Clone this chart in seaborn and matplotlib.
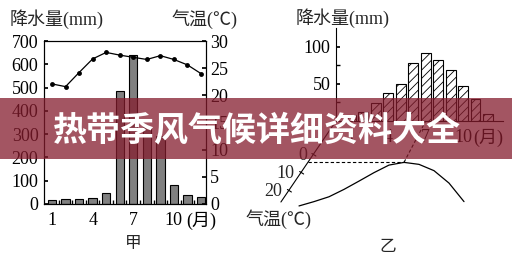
import numpy as np
import pandas as pd
import matplotlib
matplotlib.use('Agg')
import matplotlib.pyplot as plt
import seaborn as sns
from matplotlib.patches import Rectangle
from matplotlib.lines import Line2D
from matplotlib.transforms import IdentityTransform

# ---------------- data ----------------
months = list(range(1, 13))
precip_jia = [16, 20, 20, 27, 47, 486, 640, 330, 290, 81, 37, 32]
temp_jia = [22.1, 21.6, 24.2, 26.7, 27.9, 27.4, 27.0, 26.6, 27.3, 26.6, 25.6, 24.0]
precip_yi = [8, 12, 24, 37, 50, 78, 92, 82, 68, 47, 29, 9]
temp_yi = [28.3, 25.9, 23.2, 19.1, 14.5, 9.8, 5.6, 4.1, 5.2, 8.7, 15.6, 25.9]
month_ticks = [1, 4, 7, 10, 12]
month_labels = ['1', '4', '7', '10', '(月)']
jia_precip_ticks = [0, 100, 200, 300, 400, 500, 600, 700]
jia_temp_ticks = [0, 5, 10, 15, 20, 25, 30]
yi_precip_ticks = [50, 100]
yi_precip_minor = [25, 75]
yi_temp_ticks = [0, 10, 20]
banner_text = '热带季风气候详细资料大全'

sns.set_theme(style='white')
plt.rcParams['font.family'] = ['Liberation Serif', 'Noto Sans CJK SC']
plt.rcParams['hatch.linewidth'] = 0.6
plt.rcParams['axes.linewidth'] = 0.8

W, H = 512, 259
fig = plt.figure(figsize=(W / 100, H / 100), dpi=100)
fig.patch.set_facecolor('white')


def rect(l, t, r, b):
    return [l / W, 1 - b / H, (r - l) / W, (b - t) / H]


FS = 13

# ---------------- 甲 ----------------
df_jia = pd.DataFrame({'month': months, 'precip': precip_jia, 'temp': temp_jia})
ax1 = fig.add_axes(rect(44, 41, 206, 204))
sns.barplot(data=df_jia, x='month', y='precip', native_scale=True, width=0.62,
            color='#808080', saturation=1, edgecolor='black', linewidth=0.8, ax=ax1)
ax1.set_xlim(0.41, 12.37)
ax1.set_ylim(0, 700)
ax1.set_yticks(jia_precip_ticks)
ax1.set_xticks(month_ticks, month_labels)
ax1.set_xticks(np.arange(1.5, 12, 1), minor=True)
ax1.tick_params(axis='y', direction='in', length=3, pad=4, labelsize=FS, colors='black')
ax1.tick_params(axis='x', which='major', length=0, pad=5.5, labelsize=FS, colors='black')
ax1.tick_params(axis='x', which='minor', direction='in', length=3, bottom=True, color='black')
ax1.set_xlabel('')
ax1.set_ylabel('')
for s in ax1.spines.values():
    s.set_color('black')
    s.set_linewidth(0.8)

ax1b = ax1.twinx()
sns.lineplot(data=df_jia, x='month', y='temp', color='black', linewidth=0.9,
             marker='o', markersize=3.5, markeredgewidth=0, ax=ax1b)
ax1b.set_ylim(0, 30)
ax1b.set_yticks(jia_temp_ticks)
ax1b.tick_params(axis='y', direction='in', length=3, pad=3, labelsize=FS, colors='black')
ax1b.set_ylabel('')
ax1b.set_xlim(0.41, 12.37)
for s in ax1b.spines.values():
    s.set_color('black')
    s.set_linewidth(0.8)

# ---------------- 乙 precipitation ----------------
df_yi = pd.DataFrame({'month': months, 'precip': precip_yi, 'temp': temp_yi})
ax2 = fig.add_axes(rect(336, 28, 503, 121))
sns.barplot(data=df_yi, x='month', y='precip', native_scale=True, width=0.8,
            color='white', saturation=1, edgecolor='black', linewidth=0.8, ax=ax2)
for p in ax2.patches:
    p.set_hatch('////')
ax2.set_facecolor('none')
ax2.set_xlim(-0.205, 13.21)
ax2.set_ylim(0, 125)
ax2.set_yticks(yi_precip_ticks)
ax2.set_yticks(yi_precip_minor, minor=True)
ax2.set_xticks(month_ticks, month_labels)
ax2.tick_params(axis='y', which='both', direction='in', length=3, pad=4, labelsize=FS,
                left=True, colors='black')
ax2.tick_params(axis='x', length=0, pad=5.5, labelsize=FS, colors='black')
ax2.set_xlabel('')
ax2.set_ylabel('')
ax2.spines['top'].set_visible(False)
ax2.spines['right'].set_visible(False)
for s in ax2.spines.values():
    s.set_color('black')
    s.set_linewidth(0.8)

# ---------------- 乙 temperature (oblique axis) ----------------
ax3 = fig.add_axes(rect(260, 100, 512, 259))
ax3.set_xlim(-1.6, 15.2)
ax3.set_ylim(57.78, -30.56)
sns.lineplot(data=df_yi, x='month', y='temp', color='black', linewidth=0.9, ax=ax3)
ax3.axis('off')
ax3.patch.set_visible(False)

fig.canvas.draw()
ident = IdentityTransform()
ox, oy = ax2.transAxes.transform((0, 0))
k = 0.68  # horizontal shift per vertical pixel of the oblique axis
end_y = H - 202


def obl_x(yd):
    return ox - k * (oy - yd)


fig.add_artist(Line2D([ox, obl_x(end_y)], [oy, end_y], color='black', lw=0.8,
                      transform=ident))
for T in yi_temp_ticks:
    yd = ax3.transData.transform((0, T))[1]
    xd = obl_x(yd)
    fig.add_artist(Line2D([xd - 1, xd + 3], [yd + 1.5, yd - 1], color='black', lw=0.8,
                          transform=ident))
    fig.text((xd - 6) / W, yd / H, str(T), ha='right', va='center', fontsize=FS)

imin = int(np.argmin(temp_yi))
px_min, py_min = ax3.transData.transform((months[imin], temp_yi[imin]))
fig.add_artist(Line2D([obl_x(py_min), px_min], [py_min, py_min], color='black', lw=0.8,
                      ls=(0, (3, 2)), transform=ident))
m7x, m7y = ax2.transData.transform((7, 0))
fig.add_artist(Line2D([px_min, m7x], [py_min, m7y], color='black', lw=0.8,
                      ls=(0, (3, 2)), transform=ident))

# ---------------- texts ----------------
fig.text(10 / W, 1 - 19 / H, '降水量(mm)', ha='left', va='center', fontsize=FS)
fig.text(238 / W, 1 - 19 / H, '气温(℃)', ha='right', va='center', fontsize=FS)
fig.text(296 / W, 1 - 18.5 / H, '降水量(mm)', ha='left', va='center', fontsize=FS)
fig.text(278.5 / W, 1 - 219 / H, '气温(℃)', ha='center', va='center', fontsize=FS)
fig.text(133 / W, 1 - 244 / H, '甲', ha='center', va='center', fontsize=12)
fig.text(388 / W, 1 - 247 / H, '乙', ha='center', va='center', fontsize=12)

# ---------------- banner ----------------
fig.add_artist(Rectangle((0, 1 - 159 / H), 1, 61 / H, transform=fig.transFigure,
                         facecolor=(133 / 255, 28 / 255, 45 / 255), alpha=0.75,
                         edgecolor='none', zorder=10))
fig.text(257 / W, 1 - 130 / H, banner_text, ha='center', va='center', fontsize=24.5,
         fontweight='bold', color='white', family=['Noto Sans CJK SC'], zorder=11)

fig.savefig('out.png', dpi=100, facecolor='white')
